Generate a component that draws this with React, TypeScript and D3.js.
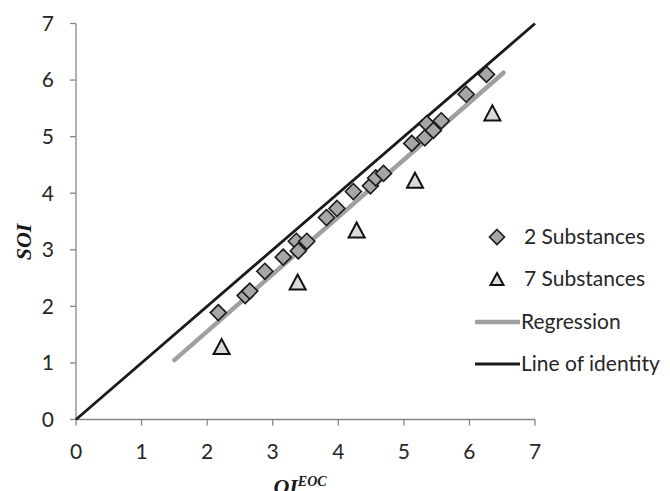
import React from 'react';
import * as d3 from 'd3';

// 2 substances (diamonds)
const twoX = [2.17, 2.58, 2.65, 2.88, 3.16, 3.36, 3.39, 3.52, 3.82, 3.98, 4.23, 4.49, 4.57, 4.69, 5.12, 5.32, 5.35, 5.45, 5.57, 5.95, 6.26];
const twoY = [1.89, 2.19, 2.27, 2.62, 2.87, 3.15, 2.98, 3.15, 3.57, 3.73, 4.03, 4.13, 4.27, 4.35, 4.88, 4.98, 5.23, 5.11, 5.28, 5.75, 6.1];

// 7 substances (triangles)
const sevenX = [2.22, 3.38, 4.28, 5.17, 6.35];
const sevenY = [1.29, 2.43, 3.35, 4.23, 5.42];

// regression line end points
const regX = [1.5, 6.52];
const regY = [1.05, 6.13];

// line of identity
const idX = [0, 7];
const idY = [0, 7];

const ticks = [0, 1, 2, 3, 4, 5, 6, 7];

const legendLabels = ['2 Substances', '7 Substances', 'Regression', 'Line of identity'];

const font = 'Lato, "Open Sans", sans-serif';

const diamond = (s: number) => `M0,${-s}L${s},0L0,${s}L${-s},0Z`;
const triangle = (w: number, h: number) => `M0,${-h / 2}L${w / 2},${h / 2}L${-w / 2},${h / 2}Z`;

export default function App() {
  const x = d3.scaleLinear().domain([0, 7]).range([76, 535]);
  const y = d3.scaleLinear().domain([0, 7]).range([419.5, 23.5]);

  const line = d3.line<number>()
    .x((_, i) => x(regX[i]))
    .y((_, i) => y(regY[i]));
  const idLine = d3.line<number>()
    .x((_, i) => x(idX[i]))
    .y((_, i) => y(idY[i]));

  const legY = [237, 279, 322, 364];

  return (
    <svg width={670} height={491} style={{ position: 'absolute', left: 0, top: 0, background: '#fff' }}>
      {/* axes */}
      <g stroke="#868686" strokeWidth={1.3}>
        <line x1={x(0)} x2={x(0)} y1={y(0)} y2={y(7)} />
        <line x1={x(0)} x2={x(7)} y1={y(0)} y2={y(0)} />
        {ticks.map(t => (
          <line key={'yt' + t} x1={x(0) - 6} x2={x(0)} y1={y(t)} y2={y(t)} />
        ))}
        {ticks.map(t => (
          <line key={'xt' + t} x1={x(t)} x2={x(t)} y1={y(0)} y2={y(0) + 6} />
        ))}
      </g>
      <g fontFamily={font} fontSize={21} fill="#262626">
        {ticks.map(t => (
          <text key={'yl' + t} x={x(0) - 22} y={y(t)} dy="0.35em" textAnchor="end">{t}</text>
        ))}
        {ticks.map(t => (
          <text key={'xl' + t} x={x(t)} y={y(0) + 32} dy="0.35em" textAnchor="middle">{t}</text>
        ))}
      </g>

      {/* line of identity */}
      <path d={idLine(idX) || ''} fill="none" stroke="#1a1a1a" strokeWidth={2.8} />
      {/* regression */}
      <path d={line(regX) || ''} fill="none" stroke="#a0a0a0" strokeWidth={4.5} strokeLinecap="round" />

      {/* 7 substances */}
      {sevenX.map((v, i) => (
        <path key={'t' + i} d={triangle(16, 15)} transform={`translate(${x(v)},${y(sevenY[i])})`}
          fill="#dadada" stroke="#111" strokeWidth={2} strokeLinejoin="miter" />
      ))}
      {/* 2 substances */}
      {twoX.map((v, i) => (
        <path key={'d' + i} d={diamond(8)} transform={`translate(${x(v)},${y(twoY[i])})`}
          fill="#a6a6a6" stroke="#1a1a1a" strokeWidth={1.6} />
      ))}

      {/* axis titles */}
      <text transform="translate(31,242) rotate(-90)" textAnchor="middle" fontFamily='"Liberation Serif", "DejaVu Serif", serif'
        fontWeight="bold" fontStyle="italic" fontSize={22} fill="#1a1a1a">SOI</text>
      <text x={300} y={494} textAnchor="middle" fontFamily='"Liberation Serif", "DejaVu Serif", serif'
        fontWeight="bold" fontStyle="italic" fill="#1a1a1a" fontSize={22}>
        OI<tspan fontSize={14} dy={-8}>EOC</tspan>
      </text>

      {/* legend */}
      <g fontFamily={font} fontSize={21} fill="#262626">
        <path d={diamond(7.5)} transform={`translate(497,${legY[0]})`} fill="#a6a6a6" stroke="#1a1a1a" strokeWidth={1.6} />
        <path d={triangle(13, 12)} transform={`translate(497,${legY[1]})`} fill="#dadada" stroke="#111" strokeWidth={2} />
        <line x1={475} x2={520} y1={legY[2]} y2={legY[2]} stroke="#a0a0a0" strokeWidth={4.5} />
        <line x1={475} x2={520} y1={legY[3]} y2={legY[3]} stroke="#1a1a1a" strokeWidth={2.8} />
        {legendLabels.map((l, i) => (
          <text key={l} x={i < 2 ? 524 : 521} y={legY[i]} dy="0.35em">{l}</text>
        ))}
      </g>
    </svg>
  );
}
